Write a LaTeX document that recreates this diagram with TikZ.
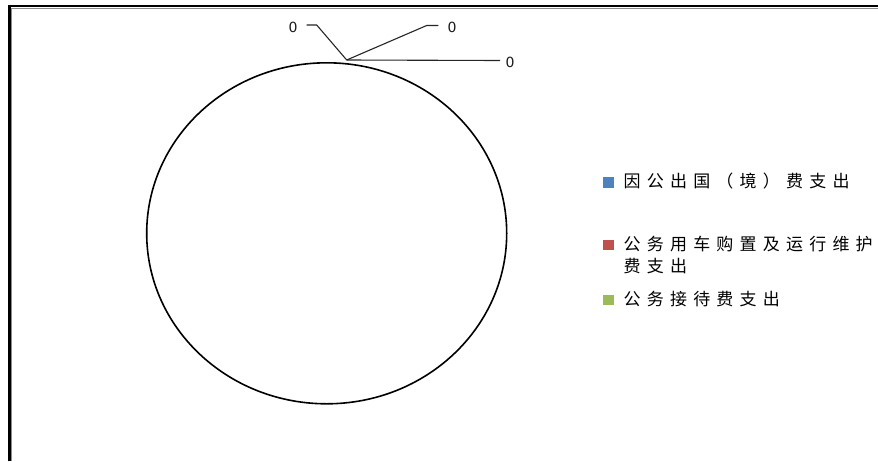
\documentclass[tikz,border=0pt]{standalone}
\usepackage{fontspec}
\usetikzlibrary{shapes.geometric}
\newfontfamily\cjk{Noto Sans CJK SC}
\newfontfamily\numfont{DejaVu Sans}
\makeatletter
\def\spc#1{\spcA#1\relax}
\def\spcA#1{\ifx#1\relax\else\makebox[23.2pt][l]{#1}\expandafter\spcA\fi}
\makeatother
\definecolor{lblue}{HTML}{4F81BD}
\definecolor{lred}{HTML}{C0504D}
\definecolor{lgreen}{HTML}{9BBB59}
\tikzset{
  zlabel/.style={inner sep=0pt, font=\numfont\fontsize{14pt}{14pt}\selectfont, text=black!90},
  leader/.style={draw=black!85, line width=1.1pt},
  legtext/.style={anchor=west, inner sep=0pt, align=left, font=\cjk\fontsize{17pt}{21.7pt}\selectfont},
  legsq/.style={minimum width=11pt, minimum height=10.5pt, inner sep=0pt}
}
\begin{document}
\begin{tikzpicture}[x=1pt,y=-1pt]
\useasboundingbox (0,0) rectangle (878,461);
\fill[white] (0,0) rectangle (878,461);
% frame
\draw[black!45, line width=1.2pt] (11.8,461) -- (11.8,8.3) -- (878,8.3);
\draw[black, line width=2.2pt] (9.5,461) -- (9.5,6) -- (878,6);
% pie (single full circle)
\node[draw=black, line width=1.6pt, ellipse, minimum width=360pt, minimum height=341pt, inner sep=0pt] (pie) at (326.7,233.3) {};
% labels
\node[zlabel] (z1) at (293,27.5) {0};
\node[zlabel] (z2) at (452,27.5) {0};
\node[zlabel] (z3) at (510,62) {0};
\coordinate (hub) at (346.7,60);
\coordinate (k1) at (316.7,25);
\coordinate (e1) at (306.7,25);
\coordinate (k2) at (426.7,25.5);
\coordinate (e2) at (438.3,25.5);
\coordinate (e3) at (500,60.5);
\draw[leader] (e1) -- (k1) -- (hub);
\draw[leader] (hub) -- (k2) -- (e2);
\draw[leader] (hub) -- (e3);
% legend
\node[legsq, fill=lblue] (s1) at (608,182.5) {};
\node[legsq, fill=lred] (s2) at (608,245) {};
\node[legsq, fill=lgreen] (s3) at (608,300) {};
\node[legtext] (t1) at (623.5,181) {\spc{因公出国（境）费支出}};
\node[legtext] (t2) at (623.5,255.3) {\spc{公务用车购置及运行维护}\\\spc{费支出}};
\node[legtext] (t3) at (623.5,299.5) {\spc{公务接待费支出}};
\end{tikzpicture}
\end{document}
